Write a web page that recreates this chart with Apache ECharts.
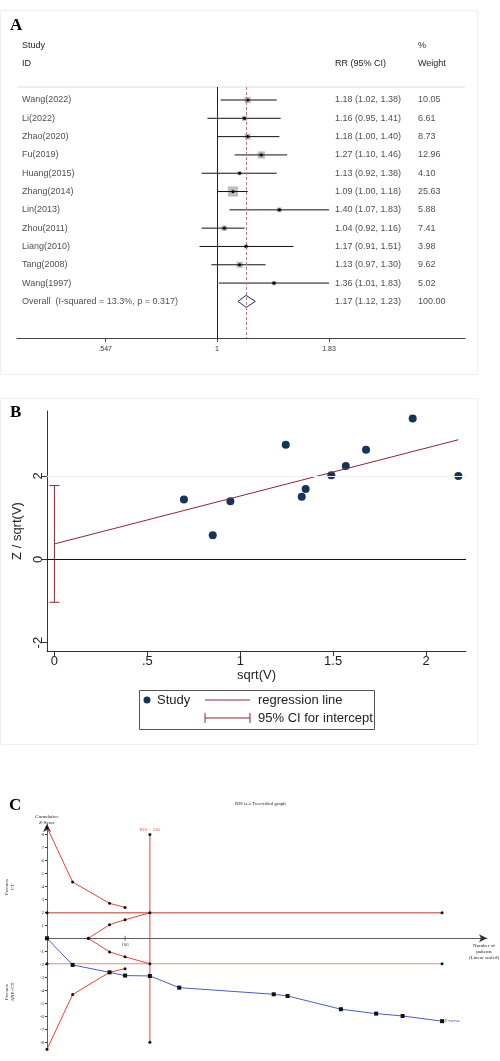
<!DOCTYPE html>
<html><head><meta charset="utf-8">
<script src="https://cdn.jsdelivr.net/npm/echarts@6/dist/echarts.min.js"></script>
<style>html,body{margin:0;padding:0;background:#fff}#c{width:500px;height:1061px}</style>
</head><body><div id="c"></div>
<script>
// ---- Panel A data ----
const studies = ["Wang(2022)","Li(2022)","Zhao(2020)","Fu(2019)","Huang(2015)","Zhang(2014)","Lin(2013)","Zhou(2011)","Liang(2010)","Tang(2008)","Wang(1997)"];
const rr   = [1.18,1.16,1.18,1.27,1.13,1.09,1.40,1.04,1.17,1.13,1.36];
const lo   = [1.02,0.95,1.00,1.10,0.92,1.00,1.07,0.92,0.91,0.97,1.01];
const hi   = [1.38,1.41,1.40,1.46,1.38,1.18,1.83,1.16,1.51,1.30,1.83];
const weights = [10.05,6.61,8.73,12.96,4.10,25.63,5.88,7.41,3.98,9.62,5.02];
const overall = {label:"Overall  (I-squared = 13.3%, p = 0.317)", rr:1.17, lo:1.12, hi:1.23, w:"100.00"};
const forestTicks = [0.547, 1, 1.83];
const forestTickLabels = [".547", "1", "1.83"];

// ---- Panel B data ----
const sqrtV = [0.697,0.852,0.947,1.245,1.331,1.352,1.490,1.568,1.677,1.928,2.174];
const zOverSqrtV = [1.435,0.58,1.395,2.75,1.50,1.69,2.02,2.24,2.63,3.38,2.0];
const regIntercept = 0.37, regSlope = 1.15;
const ciIntercept = [-1.03, 1.77];
const bTicksX = [0,0.5,1,1.5,2], bTickLabelsX = ["0",".5","1","1.5","2"];
const bTicksY = [-2,0,2];

// ---- Panel C data ----
const zN = [0,61,149,186,245,315,540,573,700,784,847,941];
const zVal = [0,-2.05,-2.62,-2.87,-2.9,-3.8,-4.31,-4.44,-5.46,-5.8,-5.98,-6.38];
const bndN = [0,61,149,186];
const bndUpper = [8.54,4.33,2.69,2.38];
const bndLower = [-8.54,-4.33,-2.62,-2.34];
const futN = [98.5,149,186,245];
const futUpper = [0,1.05,1.43,1.96];
const futLower = [0,-1.05,-1.43,-1.96];
const RIS = 245, zCrit = 1.96, maxN = 941;
const cTickX = 186;
const cTicksY = [-8,-7,-6,-5,-4,-3,-2,-1,1,2,3,4,5,6,7,8];

const L = Math.log;
const chart = echarts.init(document.getElementById('c'));
const textSer = (xv, arr) => ({
  type:'scatter', xAxisIndex:0, yAxisIndex:0, symbolSize:0, silent:true,
  data: arr.map((t,i)=>({value:[xv, i], t})),
  label:{show:true, position:'right', distance:0, formatter:p=>p.data.t, fontFamily:'Arial, Liberation Sans', fontSize:9, color:'#222'}
});
const aRows = studies.length;
const serif = 'Liberation Serif, Times New Roman, serif';
const redLine = (data, color) => ({type:'line', xAxisIndex:2, yAxisIndex:2, symbol:'circle', symbolSize:3, silent:true,
  itemStyle:{color:'#111'}, lineStyle:{color:color||'#e8413b', width:1}, data});

const option = {
  animation:false,
  grid:[
    {left:17, width:448, top:87, height:251},
    {left:47, width:419, top:411, height:240},
    {left:47, right:13, top:824, height:226}
  ],
  xAxis:[
    {gridIndex:0, type:'value', min:-1.079, max:1.338,
     axisLine:{onZero:false, lineStyle:{color:'#444'}}, splitLine:{show:false},
     axisTick:{customValues:forestTicks.map(L), length:4, lineStyle:{color:'#444'}},
     axisLabel:{customValues:forestTicks.map(L), fontSize:7, color:'#333', formatter:v=>{let i=forestTicks.findIndex(t=>Math.abs(L(t)-v)<1e-6);return i>=0?forestTickLabels[i]:'';}}},
    {gridIndex:1, type:'value', min:-0.04, max:2.215,
     name:'sqrt(V)', nameLocation:'middle', nameGap:18, nameTextStyle:{fontSize:13, color:'#222', fontFamily:'Arial'},
     axisLine:{onZero:false, lineStyle:{color:'#333'}}, splitLine:{show:false},
     axisTick:{customValues:bTicksX, length:5, lineStyle:{color:'#333'}},
     axisLabel:{customValues:bTicksX, fontSize:13, color:'#222', margin:4, fontFamily:'Arial', formatter:v=>{let i=bTicksX.findIndex(t=>Math.abs(t-v)<1e-6);return i>=0?bTickLabelsX[i]:'';}}},
    {gridIndex:2, type:'value', min:0, max:1048,
     axisLine:{onZero:true, symbol:['none','arrow'], symbolSize:[6,8], lineStyle:{color:'#333', width:0.8}}, splitLine:{show:false},
     axisTick:{show:false}, axisLabel:{show:false}}
  ],
  yAxis:[
    {gridIndex:0, type:'value', min:-0.71, max:13.0, inverse:true, show:false},
    {gridIndex:1, type:'value', min:-2.2, max:3.56,
     name:'Z / sqrt(V)', nameLocation:'middle', nameGap:20, nameTextStyle:{fontSize:13, color:'#222', fontFamily:'Arial'},
     axisLine:{show:true, onZero:false, lineStyle:{color:'#333'}}, splitLine:{show:false},
     axisTick:{customValues:bTicksY, length:5, lineStyle:{color:'#333'}},
     axisLabel:{customValues:bTicksY, rotate:90, fontSize:13, color:'#222', margin:2, fontFamily:'Arial'}},
    {gridIndex:2, type:'value', min:-8.6, max:8.8,
     axisLine:{show:true, symbol:['none','arrow'], symbolSize:[6,8], lineStyle:{color:'#333', width:0.8}}, splitLine:{show:false},
     axisTick:{customValues:cTicksY, length:2, lineStyle:{color:'#333'}},
     axisLabel:{customValues:cTicksY, fontSize:5, color:'#222', fontFamily:serif, margin:3}}
  ],
  series:[
    {type:'line', xAxisIndex:0, yAxisIndex:0, data:[], markLine:{silent:true, symbol:'none', label:{show:false},
      data:[{xAxis:0, lineStyle:{color:'#222', type:'solid', width:1}},
            {xAxis:L(overall.rr), lineStyle:{color:'#b57a86', type:[3,2], width:1}}]}},
    {type:'custom', xAxisIndex:0, yAxisIndex:0, silent:true,
     data: rr.map((v,i)=>[L(lo[i]), L(hi[i]), L(v), i, weights[i]]),
     renderItem:(params, api)=>{
       const a=api.coord([api.value(0),api.value(3)]), b=api.coord([api.value(1),api.value(3)]), c=api.coord([api.value(2),api.value(3)]);
       const s=Math.sqrt(api.value(4))*2;
       return {type:'group', children:[
         {type:'rect', shape:{x:c[0]-s/2, y:c[1]-s/2, width:s, height:s}, style:{fill:'#bdbdbd'}},
         {type:'line', shape:{x1:a[0], y1:a[1], x2:b[0], y2:b[1]}, style:{stroke:'#111', lineWidth:1}},
         {type:'circle', shape:{cx:c[0], cy:c[1], r:1.6}, style:{fill:'#000'}}
       ]};
     }},
    {type:'custom', xAxisIndex:0, yAxisIndex:0, silent:true,
     data:[[L(overall.lo), L(overall.rr), L(overall.hi), aRows]],
     renderItem:(params, api)=>{
       const y=api.value(3);
       const p1=api.coord([api.value(0),y]), p2=api.coord([api.value(1),y]), p3=api.coord([api.value(2),y]);
       return {type:'polygon', shape:{points:[[p1[0],p1[1]],[p2[0],p2[1]-6],[p3[0],p3[1]],[p2[0],p2[1]+6]]}, style:{fill:'#fff', stroke:'#1f2a6b', lineWidth:1}};
     }},
    textSer(-1.052, studies.concat([overall.label])),
    textSer(0.636, rr.map((v,i)=>v.toFixed(2)+' ('+lo[i].toFixed(2)+', '+hi[i].toFixed(2)+')').concat([overall.rr.toFixed(2)+' ('+overall.lo.toFixed(2)+', '+overall.hi.toFixed(2)+')'])),
    textSer(1.084, weights.map(w=>w.toFixed(2)).concat([overall.w])),

    // Panel B
    {type:'line', xAxisIndex:1, yAxisIndex:1, data:[], markLine:{silent:true, symbol:'none', label:{show:false},
      data:[{yAxis:0, lineStyle:{color:'#111', type:'solid', width:1}},{yAxis:2, lineStyle:{color:'#eee', type:'solid', width:1}}]}},
    {type:'line', xAxisIndex:1, yAxisIndex:1, symbol:'none', silent:true,
     data:[[0, regIntercept],[Math.max(...sqrtV), regIntercept+regSlope*Math.max(...sqrtV)]], lineStyle:{color:'#8b2635', width:1}},
    {type:'custom', xAxisIndex:1, yAxisIndex:1, silent:true, data:[[0, ciIntercept[0], ciIntercept[1]]],
     renderItem:(params, api)=>{
       const a=api.coord([api.value(0),api.value(1)]), b=api.coord([api.value(0),api.value(2)]);
       const st={stroke:'#8b2635', lineWidth:1};
       return {type:'group', children:[
         {type:'line', shape:{x1:a[0],y1:a[1],x2:b[0],y2:b[1]}, style:st},
         {type:'line', shape:{x1:a[0]-5,y1:a[1],x2:a[0]+5,y2:a[1]}, style:st},
         {type:'line', shape:{x1:b[0]-5,y1:b[1],x2:b[0]+5,y2:b[1]}, style:st}]};
     }},
    {type:'scatter', xAxisIndex:1, yAxisIndex:1, symbolSize:8, itemStyle:{color:'#15345a', opacity:1},
     data: sqrtV.map((v,i)=>[v, zOverSqrtV[i]])},

    // Panel C
    redLine([[0,zCrit],[maxN,zCrit]], '#c0392b'),
    redLine([[0,-zCrit],[maxN,-zCrit]], '#e58a8a'),
    redLine([[RIS,8],[RIS,-8]]),
    redLine(bndN.map((n,i)=>[n,bndUpper[i]])),
    redLine(bndN.map((n,i)=>[n,bndLower[i]])),
    redLine(futN.map((n,i)=>[n,futUpper[i]])),
    redLine(futN.map((n,i)=>[n,futLower[i]])),
    {type:'line', xAxisIndex:2, yAxisIndex:2, symbol:'rect', symbolSize:4, itemStyle:{color:'#111'}, lineStyle:{color:'#4a5cc8', width:1},
     data:zN.map((n,i)=>[n,zVal[i]]),
     endLabel:{show:true, formatter:'Z-curve', color:'#3a4cc0', fontSize:5, fontFamily:serif, distance:2}},
    {type:'scatter', xAxisIndex:2, yAxisIndex:2, symbolSize:0, data:[[RIS,8]],
     label:{show:true, position:'top', formatter:'RIS = '+RIS, color:'#d03030', fontSize:5, fontFamily:serif, distance:2}},
    {type:'scatter', xAxisIndex:2, yAxisIndex:2, symbol:'rect', symbolSize:[0.8,5], itemStyle:{color:'#333'}, data:[[cTickX,0]],
     label:{show:true, position:'bottom', formatter:String(cTickX), color:'#222', fontSize:5, fontFamily:serif, distance:1}}
  ],
  graphic:[
    {type:'rect', shape:{x:0.5,y:10.5,width:477,height:364}, style:{fill:'none', stroke:'#f0f0f0'}},
    {type:'rect', shape:{x:0.5,y:398.5,width:477,height:346}, style:{fill:'none', stroke:'#f0f0f0'}},
    {type:'text', left:10, top:17, style:{text:'A', font:'bold 17px '+serif, fill:'#000'}},
    {type:'text', left:10, top:404, style:{text:'B', font:'bold 17px '+serif, fill:'#000'}},
    {type:'text', left:9, top:797, style:{text:'C', font:'bold 17px '+serif, fill:'#000'}},
    {type:'text', left:22, top:41, style:{text:'Study', font:'9px Arial', fill:'#222'}},
    {type:'text', left:22, top:59, style:{text:'ID', font:'9px Arial', fill:'#222'}},
    {type:'text', left:335, top:59, style:{text:'RR (95% CI)', font:'9px Arial', fill:'#222'}},
    {type:'text', left:418, top:41, style:{text:'%', font:'9px Arial', fill:'#222'}},
    {type:'text', left:418, top:59, style:{text:'Weight', font:'9px Arial', fill:'#222'}},
    {type:'line', shape:{x1:17,y1:87,x2:465,y2:87}, style:{stroke:'#ddd', lineWidth:1.2}},
    // legend B
    {type:'rect', shape:{x:139.5,y:690.5,width:235,height:39}, style:{fill:'#fff', stroke:'#555', lineWidth:1}},
    {type:'circle', shape:{cx:147,cy:700,r:3.5}, style:{fill:'#15345a'}},
    {type:'text', x:157, y:700, style:{text:'Study', font:'13px Arial', fill:'#222', verticalAlign:'middle'}},
    {type:'line', shape:{x1:205,y1:700,x2:250,y2:700}, style:{stroke:'#8b2635', lineWidth:1}},
    {type:'text', x:258, y:700, style:{text:'regression line', font:'13px Arial', fill:'#222', verticalAlign:'middle'}},
    {type:'line', shape:{x1:205,y1:718,x2:250,y2:718}, style:{stroke:'#8b2635', lineWidth:1}},
    {type:'line', shape:{x1:205,y1:713,x2:205,y2:723}, style:{stroke:'#8b2635', lineWidth:1}},
    {type:'line', shape:{x1:250,y1:713,x2:250,y2:723}, style:{stroke:'#8b2635', lineWidth:1}},
    {type:'text', x:258, y:718, style:{text:'95% CI for intercept', font:'13px Arial', fill:'#222', verticalAlign:'middle'}},
    // panel C labels
    {type:'text', left:235, top:801, style:{text:'RIS is a Two-sided graph', font:'5px '+serif, fill:'#222'}},
    {type:'text', x:47, y:814, style:{text:'Cumulative\nZ-Score', font:'5px '+serif, fill:'#222', align:'center', lineHeight:6}},
    {type:'text', x:484, y:943, style:{text:'Number of\npatients\n(Linear scaled)', font:'5px '+serif, fill:'#222', align:'center', lineHeight:6}},
    {type:'text', x:10, y:887, rotation:Math.PI/2, style:{text:'Favours\nCT', font:'5px '+serif, fill:'#222', align:'center', verticalAlign:'middle', lineHeight:6}},
    {type:'text', x:10, y:992, rotation:Math.PI/2, style:{text:'Favours\nANP+CT', font:'5px '+serif, fill:'#222', align:'center', verticalAlign:'middle', lineHeight:6}}
  ]
};
chart.setOption(option);
</script></body></html>
